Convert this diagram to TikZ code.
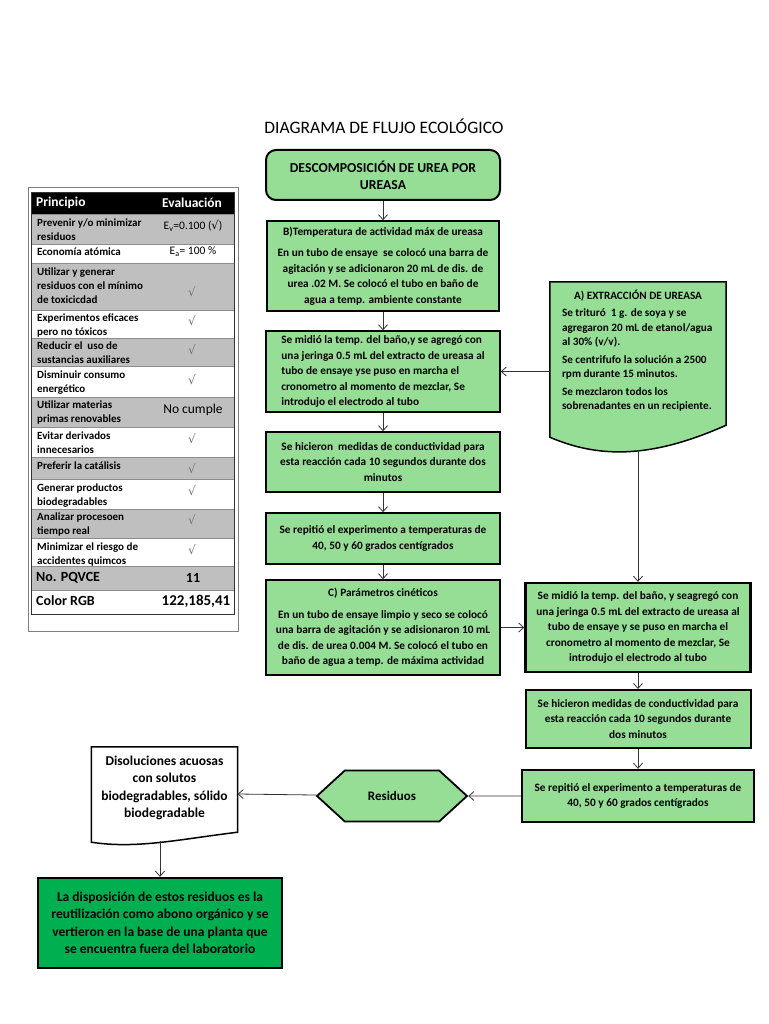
\documentclass[tikz,border=0pt]{standalone}
\usepackage{fontspec}
\setmainfont{Carlito}
\newfontfamily\dejavu{DejaVu Sans}
\usetikzlibrary{shapes.symbols,backgrounds,arrows.meta}
\definecolor{verdeclaro}{RGB}{150,222,150}
\definecolor{verdeoscuro}{RGB}{0,176,80}
\definecolor{grisfila}{RGB}{191,191,191}
\newcommand{\palomita}{{\dejavu\fontsize{12}{12}\selectfont\color{black!55}√}}

\begin{document}
\begin{tikzpicture}[x=1pt,y=-1pt,
    caja/.style={draw, line width=1.5pt, fill=verdeclaro, align=center, inner sep=0pt,
        font=\bfseries\fontsize{11.3}{15.5}\selectfont},
    cajagruesa/.style={caja, line width=2.4pt},
    flecha/.style={draw=black!80, line width=0.8pt, -{Straight Barb[length=5pt,width=9pt]}},
    docu/.style={draw, line width=1.5pt},
    fila/.style={draw=black!45, line width=0.4pt},
    celda/.style={anchor=north west, align=left, inner sep=0pt, font=\bfseries\fontsize{11}{14}\selectfont},
    valor/.style={inner sep=0pt, font=\fontsize{11.5}{12}\selectfont}]
    \useasboundingbox (0,0) rectangle (768,1024);

    \draw[black!50, line width=0.6pt] (28,187) rectangle (238,631);
    \fill[black] (31,192) rectangle (234,214);
    \node[anchor=west, inner sep=0pt, text=white, font=\bfseries\fontsize{13.5}{14}\selectfont] (principio) at (36,203) {Principio};
    \node[inner sep=0pt, text=white, font=\bfseries\fontsize{13.5}{14}\selectfont] (evaluacion) at (192,203) {Evaluación};

    \filldraw[fila, fill=grisfila] (31,214) rectangle (234,244);
    \node[celda] (p1) at (37,219) {Prevenir y/o minimizar\\residuos};
    \node[valor] (e1) at (193,226) {E\textsubscript{v}=0.100 ({\dejavu√})};
    \filldraw[fila, fill=white] (31,244) rectangle (234,263);
    \node[celda] (p2) at (37,248) {Economía atómica};
    \node[valor] (e2) at (193,252) {E\textsubscript{a}= 100 \%};
    \filldraw[fila, fill=grisfila] (31,263) rectangle (234,310);
    \node[celda] (p3) at (37,268) {Utilizar y generar\\residuos con el mínimo\\de toxicicdad};
    \node[valor] (e3) at (192,292) {\palomita};
    \filldraw[fila, fill=white] (31,310) rectangle (234,338);
    \node[celda] (p4) at (37,314) {Experimentos eficaces\\pero no tóxicos};
    \node[valor] (e4) at (192,321) {\palomita};
    \filldraw[fila, fill=grisfila] (31,338) rectangle (234,366);
    \node[celda] (p5) at (37,342) {Reducir el\ \ uso de\\sustancias auxiliares};
    \node[valor] (e5) at (192,350) {\palomita};
    \filldraw[fila, fill=white] (31,366) rectangle (234,397);
    \node[celda] (p6) at (37,371) {Disminuir consumo\\energético};
    \node[valor] (e6) at (192,380) {\palomita};
    \filldraw[fila, fill=grisfila] (31,397) rectangle (234,427);
    \node[celda] (p7) at (37,401) {Utilizar materias\\primas renovables};
    \node[valor, font=\fontsize{13.5}{14}\selectfont] (e7) at (193,410) {No cumple};
    \filldraw[fila, fill=white] (31,427) rectangle (234,457);
    \node[celda] (p8) at (37,432) {Evitar derivados\\innecesarios};
    \node[valor] (e8) at (192,439) {\palomita};
    \filldraw[fila, fill=grisfila] (31,457) rectangle (234,479);
    \node[celda] (p9) at (37,462) {Preferir la catálisis};
    \node[valor] (e9) at (192,469) {\palomita};
    \filldraw[fila, fill=white] (31,479) rectangle (234,509);
    \node[celda] (p10) at (37,484) {Generar productos\\biodegradables};
    \node[valor] (e10) at (192,491) {\palomita};
    \filldraw[fila, fill=grisfila] (31,509) rectangle (234,538);
    \node[celda] (p11) at (37,513) {Analizar procesoen\\tiempo real};
    \node[valor] (e11) at (192,520) {\palomita};
    \filldraw[fila, fill=white] (31,538) rectangle (234,566);
    \node[celda] (p12) at (37,543) {Minimizar el riesgo de\\accidentes quimcos};
    \node[valor] (e12) at (192,550) {\palomita};
    \filldraw[fila, fill=grisfila] (31,566) rectangle (234,590);
    \node[anchor=west, inner sep=0pt, font=\bfseries\fontsize{14}{14}\selectfont] (p13) at (36,578) {No. PQVCE};
    \node[inner sep=0pt, font=\bfseries\fontsize{14}{14}\selectfont] (e13) at (193,578) {11};
    \filldraw[fila, fill=white] (31,590) rectangle (234,614);
    \node[anchor=west, inner sep=0pt, font=\bfseries\fontsize{14}{14}\selectfont] (p14) at (36,601) {Color RGB};
    \node[inner sep=0pt, font=\bfseries\fontsize{15}{15}\selectfont] (e14) at (196,601) {122,185,41};
    \draw[black!80, line width=0.6pt] (31,192) rectangle (234,614);

    \node[font=\fontsize{17.5}{20}\selectfont] (titulo) at (384,126) {DIAGRAMA DE FLUJO ECOLÓGICO};
    \node[caja, rounded corners=10pt, line width=2pt, minimum width=234pt, minimum height=50pt,
        font=\bfseries\fontsize{13.7}{17}\selectfont] (inicio) at (383,175) {DESCOMPOSICIÓN DE UREA POR\\UREASA};
    \node[caja, minimum width=232pt, minimum height=90pt] (tempb) at (383,266)
        {B)Temperatura de actividad máx de ureasa\\[6pt]
        En un tubo de ensaye\ \ se colocó una barra de\\agitación y se adicionaron 20 mL de dis. de\\
        urea .02 M. Se colocó el tubo en baño de\\agua a temp. ambiente constante};
    \node[caja, align=left, minimum width=234pt, minimum height=81pt] (midio) at (383,371.5)
        {Se midió la temp. del baño,y se agregó con\\una jeringa 0.5 mL del extracto de ureasa al\\
        tubo de ensaye yse puso en marcha el\\cronometro al momento de mezclar, Se\\introdujo el electrodo al tubo};
    \node[caja, minimum width=234pt, minimum height=60pt] (medidas) at (383,462)
        {Se hicieron\ \ medidas de conductividad para\\esta reacción cada 10 segundos durante dos\\minutos};
    \node[caja, minimum width=234pt, minimum height=51pt] (repitio) at (383,538.5)
        {Se repitió el experimento a temperaturas de\\40, 50 y 60 grados centígrados};
    \node[caja, minimum width=234pt, minimum height=95pt] (cinet) at (383,627.5)
        {C) Parámetros cinéticos\\[6pt]
        En un tubo de ensaye limpio y seco se colocó\\una barra de agitación y se adisionaron 10 mL\\
        de dis. de urea 0.004 M. Se colocó el tubo en\\baño de agua a temp. de máxima actividad};

    \node[inner sep=0pt, minimum width=176pt, minimum height=168pt, font=\bfseries\fontsize{11.2}{14.5}\selectfont] (extraccion) at (638,366)
        {\parbox[c][152pt][t]{152pt}{\centering A) EXTRACCIÓN DE UREASA\par\vspace{3pt}\raggedright
        Se trituró\ \ 1 g. de soya y se\\agregaron 20 mL de etanol/agua\\al 30\% (v/v).\par\vspace{3pt}
        Se centrifufo la solución a 2500\\rpm durante 15 minutos.\par\vspace{3pt}
        Se mezclaron todos los\\sobrenadantes en un recipiente.}};
    \node[cajagruesa, minimum width=225pt, minimum height=89pt] (midio2) at (638,627.5)
        {Se midió la temp. del baño, y seagregó con\\una jeringa 0.5 mL del extracto de ureasa al\\
        tubo de ensaye y se puso en marcha el\\cronometro al momento de mezclar, Se\\introdujo el electrodo al tubo};
    \node[caja, line width=2pt, minimum width=225pt, minimum height=58pt] (medidas2) at (638,719)
        {Se hicieron medidas de conductividad para\\esta reacción cada 10 segundos durante\\dos minutos};
    \node[cajagruesa, minimum width=232pt, minimum height=52pt] (repitio2) at (638,796)
        {Se repitió el experimento a temperaturas de\\40, 50 y 60 grados centígrados};

    \node[signal, signal to=west and east, signal pointer angle=85, draw, line width=1.8pt, fill=verdeclaro,
        minimum width=150pt, minimum height=51pt, inner sep=0pt,
        font=\bfseries\fontsize{13}{14}\selectfont] (residuos) at (392,796) {Residuos};
    \node[inner sep=0pt, minimum width=146pt, minimum height=94pt, font=\bfseries\fontsize{13.5}{17.5}\selectfont] (disol) at (164.5,794)
        {\parbox[c][76pt][t]{144pt}{\centering Disoluciones acuosas\\con solutos\\biodegradables, sólido\\biodegradable}};
    \node[cajagruesa, fill=verdeoscuro, minimum width=244pt, minimum height=90pt,
        font=\bfseries\fontsize{13.5}{17.5}\selectfont] (final) at (160,923)
        {La disposición de estos residuos es la\\reutilización como abono orgánico y se\\
        vertieron en la base de una planta que\\se encuentra fuera del laboratorio};

    \begin{scope}[on background layer]
        \draw[docu, fill=verdeclaro] (extraccion.north west) -- (extraccion.north east) -- ([yshift=25pt]extraccion.south east)
            .. controls ([xshift=-70pt,yshift=-6pt]extraccion.south east) and ([xshift=-123pt,yshift=-10pt]extraccion.south east)
            .. ([yshift=13pt]extraccion.south west) -- cycle;
        \draw[docu, fill=white] (disol.north west) -- (disol.north east) -- ([yshift=9pt]disol.south east)
            .. controls ([xshift=-58pt,yshift=2pt]disol.south east) and ([xshift=-101pt,yshift=-8pt]disol.south east)
            .. ([yshift=-1pt]disol.south west) -- cycle;
    \end{scope}

    \draw[flecha] (inicio) -- (tempb);
    \draw[flecha] (tempb) -- (midio);
    \draw[flecha] (midio) -- (medidas);
    \draw[flecha] (medidas) -- (repitio);
    \draw[flecha] (repitio) -- (cinet);
    \draw[flecha] (extraccion.west |- midio.east) -- (midio.east);
    \draw[flecha] (extraccion.south) -- (midio2.north);
    \draw[flecha] (cinet) -- (midio2);
    \draw[flecha] (midio2) -- (medidas2);
    \draw[flecha] (medidas2) -- (repitio2);
    \draw[flecha] (repitio2) -- (residuos);
    \draw[flecha] (residuos) -- (disol.east);
    \draw[flecha] (disol.south -| final.north) -- (final.north);
\end{tikzpicture}
\end{document}
